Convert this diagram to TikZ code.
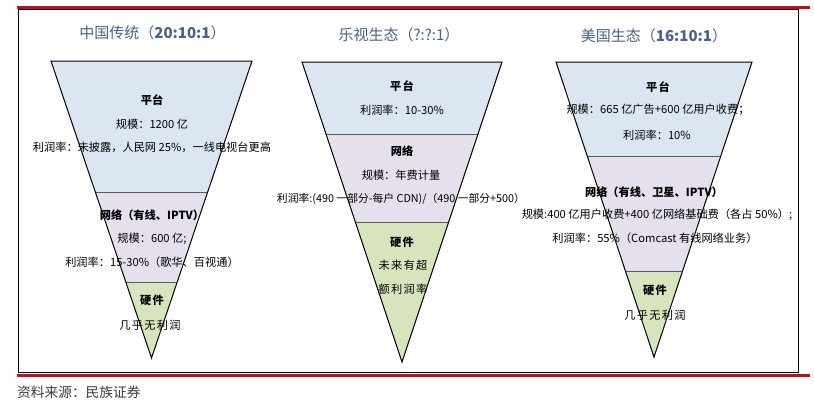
\documentclass[tikz,border=0pt]{standalone}
\usepackage{fontspec}
\setmainfont{Noto Sans CJK SC}
\newfontfamily\widecjk[LetterSpace=12]{Noto Sans CJK SC}
\usetikzlibrary{calc}
\definecolor{titleblue}{RGB}{70,98,140}
\definecolor{topfill}{RGB}{220,230,242}
\definecolor{midfill}{RGB}{229,224,236}
\definecolor{botfill}{RGB}{215,228,189}
\definecolor{barred}{RGB}{185,18,30}
\definecolor{divgray}{RGB}{90,90,90}
\definecolor{srcgray}{RGB}{60,60,60}
\tikzset{
  lbl/.style={font=\fontsize{11.2}{13}\selectfont, inner sep=0pt, anchor=center},
  hdr/.style={font=\fontsize{11.2}{13}\selectfont\bfseries, inner sep=0pt, anchor=center},
  wlbl/.style={font=\fontsize{11.2}{13}\selectfont\widecjk, inner sep=0pt, anchor=center},
  ttl/.style={font=\fontsize{15}{18}\selectfont, text=titleblue, inner sep=0pt, anchor=center},
  divider/.style={draw=divgray, line width=1pt},
  outline/.style={draw=black, line width=1pt, line join=miter},
  redbar/.style={draw=barred, line width=3pt},
}
\begin{document}
\begin{tikzpicture}[x=1pt,y=-1pt]
\useasboundingbox (0,0) rectangle (814,402);
\fill[white] (0,0) rectangle (814,402);
% frame and bars
\draw[line width=1pt] (18.5,9.8) rectangle (798,372.8);
\draw[redbar] (17,7) -- (810,7);
\draw[redbar] (17,375.8) -- (810,375.8);
\node[font=\fontsize{13.7}{16}\selectfont, text=srcgray, anchor=west, inner sep=0pt] (src) at (17,392) {资料来源：民族证券};

% ---------- funnel 1 ----------
\coordinate (a1) at (51,61);
\coordinate (b1) at (252,61);
\coordinate (c1) at (207.7,192);
\coordinate (d1) at (95.3,192);
\coordinate (e1) at (177.2,282);
\coordinate (f1) at (125.8,282);
\coordinate (g1) at (151.5,358);
\fill[topfill] (a1) -- (b1) -- (c1) -- (d1) -- cycle;
\fill[midfill] (d1) -- (c1) -- (e1) -- (f1) -- cycle;
\fill[botfill] (f1) -- (e1) -- (g1) -- cycle;
\draw[divider] (d1) -- (c1);
\draw[divider] (f1) -- (e1);
\draw[outline] (a1) -- (b1) -- (g1) -- cycle;

\node[ttl] (t1) at (152.5,33) {中国传统（\textbf{20:10:1}）};
\node[hdr] (p1h) at (152,100) {平台};
\node[lbl] (p1a) at (152,124) {规模：1200 亿};
\node[lbl] (p1b) at (152,147) {利润率：未披露，人民网 25\%，一线电视台更高};
\node[hdr] (n1h) at (152,215) {网络（有线、IPTV）};
\node[lbl] (n1a) at (152,239) {规模：600 亿;};
\node[lbl] (n1b) at (152,262) {利润率：15-30\%（歌华、百视通）};
\node[hdr] (h1h) at (152,300) {\widecjk 硬件};
\node[wlbl] (h1a) at (150,325) {几乎无利润};

% ---------- funnel 2 ----------
\coordinate (a2) at (302,62);
\coordinate (b2) at (502,62);
\coordinate (c2) at (478,134);
\coordinate (d2) at (326,134);
\coordinate (e2) at (448.7,222);
\coordinate (f2) at (355.3,222);
\coordinate (g2) at (402,362);
\fill[topfill] (a2) -- (b2) -- (c2) -- (d2) -- cycle;
\fill[midfill] (d2) -- (c2) -- (e2) -- (f2) -- cycle;
\fill[botfill] (f2) -- (e2) -- (g2) -- cycle;
\draw[divider] (d2) -- (c2);
\draw[divider] (f2) -- (e2);
\draw[outline] (a2) -- (b2) -- (g2) -- cycle;

\node[ttl] (t2) at (399,35) {乐视生态（?:?:1）};
\node[hdr] (p2h) at (402,86) {\widecjk 平台};
\node[lbl] (p2a) at (402,110) {利润率：10-30\%};
\node[hdr] (n2h) at (402,151) {网络};
\node[lbl] (n2a) at (401,175) {规模：年费计量};
\node[lbl] (n2b) at (401,199) {\fontsize{10.8}{13}\selectfont 利润率:(490 一部分-每户 CDN)/（490 一部分+500）};
\node[hdr] (h2h) at (402,242) {\widecjk 硬件};
\node[wlbl] (h2a) at (403,265) {未来有超};
\node[wlbl] (h2b) at (403,289) {额利润率};

% ---------- funnel 3 ----------
\coordinate (a3) at (556,62);
\coordinate (b3) at (752,62);
\coordinate (c3) at (720.8,156);
\coordinate (d3) at (587.2,156);
\coordinate (e3) at (682.6,271);
\coordinate (f3) at (625.4,271);
\coordinate (g3) at (654,357);
\fill[topfill] (a3) -- (b3) -- (c3) -- (d3) -- cycle;
\fill[midfill] (d3) -- (c3) -- (e3) -- (f3) -- cycle;
\fill[botfill] (f3) -- (e3) -- (g3) -- cycle;
\draw[divider] (d3) -- (c3);
\draw[divider] (f3) -- (e3);
\draw[outline] (a3) -- (b3) -- (g3) -- cycle;

\node[ttl] (t3) at (654,36) {美国生态（\textbf{16:10:1}）};
\node[hdr] (p3h) at (658,87) {\widecjk 平台};
\node[lbl] (p3a) at (658,110) {规模：665 亿广告+600 亿用户收费；};
\node[lbl] (p3b) at (657,135) {利润率：10\%};
\node[hdr] (n3h) at (654,192) {网络（有线、卫星、IPTV）};
\node[lbl] (n3a) at (657,215) {规模:400 亿用户收费+400 亿网络基础费（各占 50\%）;};
\node[lbl] (n3b) at (655,238) {利润率：55\%（Comcast 有线网络业务）};
\node[hdr] (h3h) at (655,290) {\widecjk 硬件};
\node[wlbl] (h3a) at (655,315) {几乎无利润};
\end{tikzpicture}
\end{document}
